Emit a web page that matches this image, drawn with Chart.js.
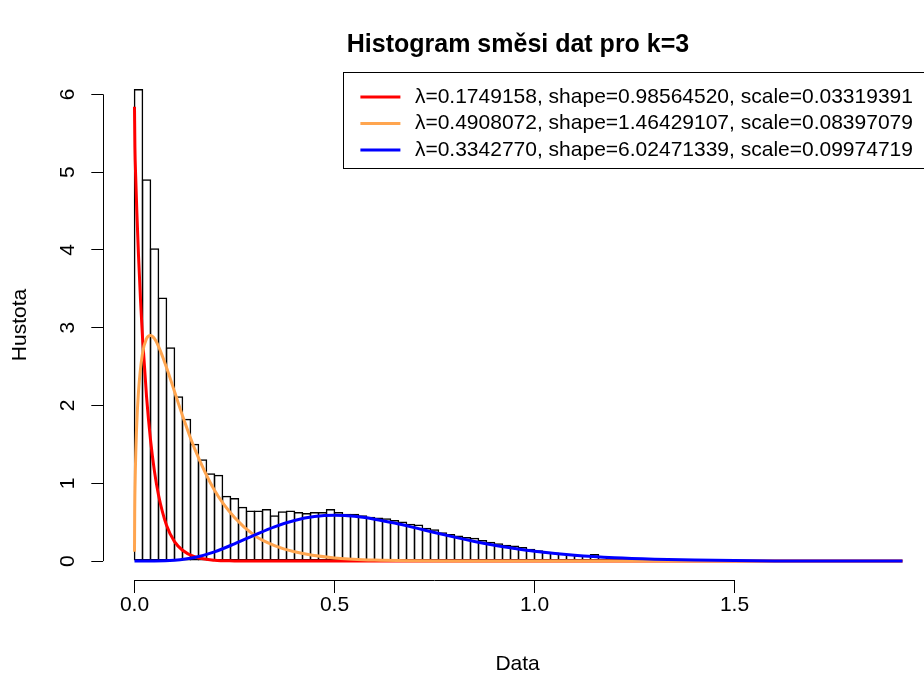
<!DOCTYPE html>
<html>
<head>
<meta charset="utf-8">
<script src="https://cdn.jsdelivr.net/npm/chart.js@4.4.1/dist/chart.umd.min.js"></script>
<style>
  html, body { margin: 0; padding: 0; background: #fff; overflow: hidden; width: 924px; height: 679px; }
  canvas { display: block; }
</style>
</head>
<body>
<canvas id="myChart" width="1036" height="679"></canvas>
<script>
// histogram: bins of width 0.02 starting at 0, density heights
const binWidth = 0.02;
const histDensity = [
  6.07, 4.91, 4.02, 3.39, 2.75, 2.12, 1.83, 1.51, 1.31, 1.13,
  1.11, 0.84, 0.81, 0.70, 0.65, 0.65, 0.67, 0.59, 0.64, 0.65,
  0.63, 0.62, 0.63, 0.63, 0.67, 0.63, 0.61, 0.61, 0.59, 0.57,
  0.56, 0.55, 0.53, 0.51, 0.48, 0.47, 0.43, 0.41, 0.37, 0.35,
  0.33, 0.31, 0.30, 0.27, 0.25, 0.23, 0.21, 0.20, 0.18, 0.16,
  0.14, 0.12, 0.11, 0.10, 0.09, 0.08, 0.08, 0.09, 0.06, 0.05,
  0.05, 0.04, 0.035, 0.03, 0.025, 0.022, 0.018, 0.016, 0.013, 0.011,
  0.010, 0.008, 0.007, 0.006, 0.005, 0.004, 0.003, 0.003, 0.002, 0.002,
  0.002, 0.001, 0.001, 0.001, 0.001, 0.001, 0, 0.001, 0, 0,
  0.001, 0, 0, 0, 0, 0.001
];

// weighted component curves (x, y)
const redX = [0, 0.001, 0.003, 0.006, 0.01, 0.015, 0.02, 0.03, 0.04, 0.05, 0.06, 0.08, 0.10, 0.12, 0.15, 0.20, 0.25, 0.30, 0.40, 0.60, 1.0, 1.5, 1.92];
const redY = [5.84, 5.33, 4.94, 4.47, 3.93, 3.36, 2.88, 2.12, 1.56, 1.15, 0.85, 0.46, 0.25, 0.14, 0.056, 0.012, 0.003, 0.001, 0, 0, 0, 0, 0];

const orangeX = [0, 0.0005, 0.002, 0.005, 0.01, 0.02, 0.03, 0.04, 0.05, 0.06, 0.08, 0.10, 0.12, 0.15, 0.20, 0.25, 0.30, 0.35, 0.40, 0.50, 0.60, 0.70, 0.80, 1.0, 1.5, 1.92];
const orangeY = [0.12, 0.61, 1.14, 1.68, 2.18, 2.67, 2.86, 2.90, 2.86, 2.76, 2.49, 2.18, 1.87, 1.45, 0.91, 0.56, 0.33, 0.20, 0.12, 0.04, 0.013, 0.004, 0.001, 0, 0, 0];

const blueX = [0, 0.05, 0.10, 0.15, 0.20, 0.25, 0.30, 0.35, 0.40, 0.45, 0.50, 0.55, 0.60, 0.65, 0.70, 0.75, 0.80, 0.85, 0.90, 0.95, 1.00, 1.10, 1.20, 1.30, 1.40, 1.60, 1.92];
const blueY = [0, 0, 0.010, 0.046, 0.119, 0.222, 0.335, 0.441, 0.522, 0.572, 0.588, 0.576, 0.539, 0.489, 0.430, 0.368, 0.308, 0.253, 0.204, 0.163, 0.127, 0.076, 0.043, 0.024, 0.013, 0.003, 0];

const componentLabels = [
  'λ=0.1749158, shape=0.98564520, scale=0.03319391',
  'λ=0.4908072, shape=1.46429107, scale=0.08397079',
  'λ=0.3342770, shape=6.02471339, scale=0.09974719'
];
const componentColors = ['#FF0000', '#FFA54F', '#0000FF'];

const xTicks = [0, 0.5, 1, 1.5];
const yTicks = [0, 1, 2, 3, 4, 5, 6];
const xTitle = 'Data';

// right edge of the original plot region, in data units (legend sits against it)
const plotRightValue = 1.9935;

const fontFamily = '"Liberation Sans", Arial, Helvetica, sans-serif';
Chart.defaults.font.family = fontFamily;
Chart.defaults.color = '#000';

const toPoints = (xs, ys) => xs.map((x, i) => ({ x: x, y: ys[i] }));
const histPoints = histDensity.map((d, i) => ({ x: i * binWidth + binWidth / 2, y: d }));

function curve(label, color, xs, ys, order) {
  return {
    type: 'line',
    label: label,
    data: toPoints(xs, ys),
    borderColor: color,
    borderWidth: 3,
    pointRadius: 0,
    fill: false,
    cubicInterpolationMode: 'monotone',
    order: order
  };
}

// R-style axis lines (only from first to last tick), x title and the legend box
const rExtras = {
  id: 'rExtras',
  afterDraw(chart) {
    const { ctx, chartArea, scales } = chart;
    const x = scales.x, y = scales.y;
    const right = x.getPixelForValue(plotRightValue);
    ctx.save();
    ctx.strokeStyle = '#000';
    ctx.lineWidth = 1;
    ctx.beginPath();
    const by = Math.round(chartArea.bottom) + 0.5;
    ctx.moveTo(x.getPixelForValue(xTicks[0]), by);
    ctx.lineTo(x.getPixelForValue(xTicks[xTicks.length - 1]), by);
    const lx = Math.round(chartArea.left) + 0.5;
    ctx.moveTo(lx, y.getPixelForValue(yTicks[0]));
    ctx.lineTo(lx, y.getPixelForValue(yTicks[yTicks.length - 1]));
    ctx.stroke();

    ctx.font = '21px ' + fontFamily;
    ctx.fillStyle = '#000';
    ctx.textAlign = 'center';
    ctx.textBaseline = 'middle';
    ctx.fillText(xTitle, (chartArea.left + right) / 2, chartArea.bottom + 84.5);

    // legend, top right of plot region
    const top = chartArea.top + 1.5;
    const left = right - 588.5;
    ctx.strokeRect(Math.round(left) + 0.5, Math.round(top) + 0.5, right - left, 96);
    ctx.textAlign = 'left';
    componentLabels.forEach((lab, i) => {
      const ry = top + 25.5 + i * 26.5;
      ctx.strokeStyle = componentColors[i];
      ctx.lineWidth = 3;
      ctx.beginPath();
      ctx.moveTo(left + 17, ry);
      ctx.lineTo(left + 57, ry);
      ctx.stroke();
      ctx.fillStyle = '#000';
      ctx.fillText(lab, left + 71.5, ry);
    });
    ctx.restore();
  }
};

const ctx = document.getElementById('myChart').getContext('2d');
new Chart(ctx, {
  type: 'bar',
  data: {
    datasets: [
      curve(componentLabels[2], componentColors[2], blueX, blueY, 0),
      curve(componentLabels[1], componentColors[1], orangeX, orangeY, 1),
      curve(componentLabels[0], componentColors[0], redX, redY, 2),
      {
        type: 'bar',
        label: 'Histogram',
        data: histPoints,
        backgroundColor: 'rgba(0,0,0,0)',
        borderColor: '#000',
        borderWidth: 1.5,
        borderSkipped: false,
        barPercentage: 1.1875,
        categoryPercentage: 1,
        grouped: false,
        order: 3
      }
    ]
  },
  options: {
    responsive: false,
    animation: false,
    layout: { padding: 0 },
    plugins: {
      legend: { display: false },
      tooltip: { enabled: false },
      title: {
        display: true,
        text: 'Histogram směsi dat pro k=3',
        color: '#000',
        font: { size: 25, weight: 'bold', family: fontFamily },
        padding: { top: 30, bottom: 10 }
      }
    },
    scales: {
      x: {
        type: 'linear',
        min: -0.078,
        max: 2.25375,
        offset: false,
        border: { display: false },
        grid: { display: true, drawOnChartArea: false, drawTicks: true, tickLength: 13, color: '#000', offset: false },
        afterBuildTicks: s => { s.ticks = xTicks.map(v => ({ value: v })); },
        afterFit: s => { s.height = 99; },
        ticks: {
          autoSkip: false,
          maxRotation: 0,
          padding: 0,
          font: { size: 21 },
          callback: v => Number(v).toFixed(1)
        },
        title: { display: false }
      },
      y: {
        type: 'linear',
        min: -0.2428,
        max: 6.3128,
        border: { display: false },
        grid: { display: true, drawOnChartArea: false, drawTicks: true, tickLength: 12, color: '#000' },
        afterBuildTicks: s => { s.ticks = yTicks.map(v => ({ value: v })); },
        afterFit: s => { s.width = 103.3; },
        ticks: {
          autoSkip: false,
          minRotation: 90,
          maxRotation: 90,
          crossAlign: 'center',
          padding: 17,
          font: { size: 21 },
          callback: v => String(v)
        },
        title: { display: true, text: 'Hustota', font: { size: 21 }, padding: { top: 7.5, bottom: 0 } }
      }
    }
  },
  plugins: [rExtras]
});
</script>
</body>
</html>
